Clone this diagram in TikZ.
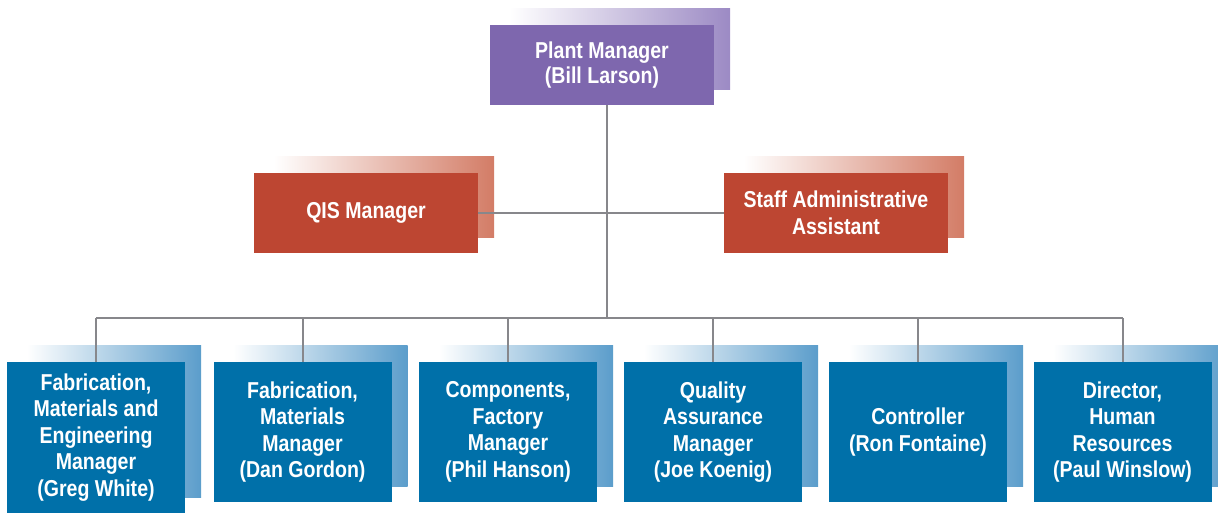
\documentclass[tikz,border=0pt]{standalone}
\usepackage{fontspec}
\setmainfont{Liberation Sans}[FakeStretch=0.85]
\usepackage{tikz}
\usetikzlibrary{calc,backgrounds}
\definecolor{plantpurple}{HTML}{7E67AE}
\definecolor{plantshadow}{HTML}{9C8AC4}
\definecolor{staffred}{HTML}{BD4632}
\definecolor{staffshadow}{HTML}{D37C66}
\definecolor{deptblue}{HTML}{0070A9}
\definecolor{deptshadow}{HTML}{5B9DCB}
\definecolor{linkgray}{HTML}{87878B}
\tikzset{
  orgbox/.style={rectangle, fill=#1, text=white, align=center, inner sep=0pt,
    font=\fontsize{23}{26.5}\selectfont\bfseries},
  plantbox/.style={orgbox=plantpurple, minimum width=224pt, minimum height=80pt,
    font=\fontsize{23}{25}\selectfont\bfseries},
  staffbox/.style={orgbox=staffred, minimum width=224pt, minimum height=80pt},
  deptbox/.style={orgbox=deptblue, minimum width=178pt, minimum height=140pt},
  link/.style={draw=linkgray, line width=2pt},
}
% faded copy behind a box, shifted up and right
\newcommand\boxshadow[2]{%
  \shade[left color=white, right color=#2]
    ($(#1.north west)+(20,-16)$) rectangle ($(#1.south east)+(16,-16)$);}

\begin{document}
\begin{tikzpicture}[x=1pt, y=-1pt]
  \useasboundingbox (0,0) rectangle (1218,514);

  \node[plantbox] (plant) at (602,65) {Plant Manager\\(Bill Larson)};
  \node[staffbox] (qis) at (366,213) {QIS Manager};
  \node[staffbox] (staff) at (836,213) {Staff Administrative\\Assistant};

  \node[deptbox, minimum height=151pt] (b1) at (96,437.5)
    {Fabrication,\\Materials and\\Engineering\\Manager\\(Greg White)};
  \foreach \name/\x/\txt in {
      b2/302.5/{Fabrication,\\Materials\\Manager\\(Dan Gordon)},
      b3/508/{Components,\\Factory\\Manager\\(Phil Hanson)},
      b4/713/{Quality\\Assurance\\Manager\\(Joe Koenig)},
      b5/918/{Controller\\(Ron Fontaine)},
      b6/1122.5/{Director,\\Human\\Resources\\(Paul Winslow)}}
    \node[deptbox] (\name) at (\x,432) {\txt};

  \coordinate (bus) at (607,318);

  \begin{pgfonlayer}{background}
    \boxshadow{plant}{plantshadow}
    \boxshadow{qis}{staffshadow}
    \boxshadow{staff}{staffshadow}
    \foreach \i in {1,...,6}
      \boxshadow{b\i}{deptshadow};

    \draw[link] (plant.south -| bus) -- (bus);
    \draw[link] (qis.east) -- (staff.west);
    \draw[link] (b1.north |- bus) -- (b6.north |- bus);
    \foreach \i in {1,...,6}
      \draw[link] (b\i.north |- bus) -- (b\i.north);
  \end{pgfonlayer}
\end{tikzpicture}
\end{document}
